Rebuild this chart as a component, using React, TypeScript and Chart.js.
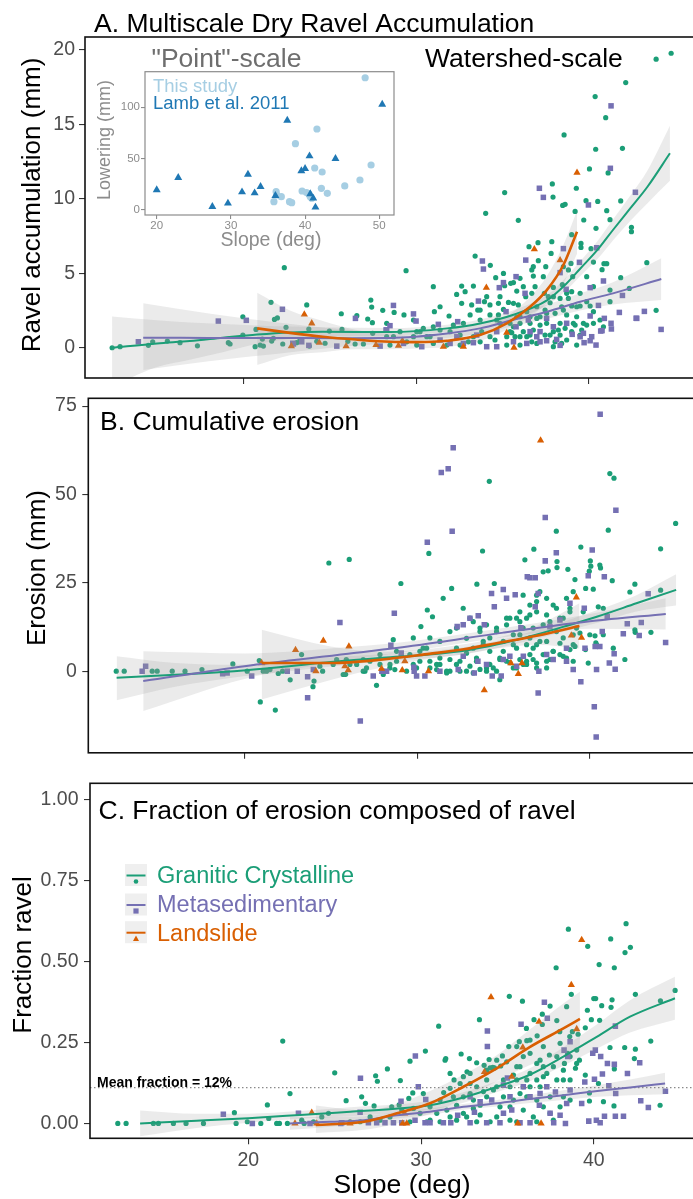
import React, { useEffect, useRef } from 'react';
import { Chart, registerables } from 'chart.js';

Chart.register(...registerables);

const FONT = '"Liberation Sans", Arial, Helvetica, sans-serif';
const GREEN = '#1B9E77';
const PURPLE = '#7570B3';
const ORANGE = '#D95F02';
const LIGHT_BLUE = '#A6CEE3';
const DARK_BLUE = '#1F78B4';
const BAND = 'rgba(153,153,153,0.2)';
const TICK_TEXT = '#4D4D4D';
const TICK_MARK = '#333333';

type Pt = [number, number];

// ---------------- ticks & labels ----------------
const slopeTicks = [20, 30, 40];
const ravelTicks = [0, 5, 10, 15, 20];
const erosionTicks = [0, 25, 50, 75];
const fractionTicks = [0, 0.25, 0.5, 0.75, 1];
const insetSlopeTicks = [20, 30, 40, 50];
const insetLoweringTicks = [0, 50, 100];
const seriesNames = ['Granitic Crystalline', 'Metasedimentary', 'Landslide'];
const insetNames = ['This study', 'Lamb et al. 2011'];
const meanFraction = 0.11;
const meanFractionLabel = 'Mean fraction = 12%';

// ---------------- Panel A: ravel accumulation (mm) ----------------
const ravelGranitic: Pt[] = [
  [12.4,0],[12.86,0.07],[14.5,0.16],[14.75,0.4],[15.6,0.45],[16.33,0.34],[17.34,0.13],[19.13,0.34],[19.23,0.25],[19.97,2.08],
  [19.97,0.85],[20.68,0.07],[20.73,1.23],[20.97,0.18],[21.16,0.11],[21.1,0.58],[21.6,3.05],[21.8,1.9],[21.97,2.0],[21.64,0.45],
  [21.74,0.63],[22.28,0.25],[22.47,1.37],[22.37,5.37],[23.09,0.34],[23.28,0.52],[23.67,2.87],[23.79,1.25],[23.82,0.11],[24.25,0.43],
  [24.73,0.3],[24.98,1.12],[25.67,2.28],[25.71,1.23],[26.05,0.43],[26.57,2.15],[26.47,0.25],[27.2,1.93],[27.38,3.2],[27.43,2.73],
  [27.47,1.68],[28.07,2.51],[28.3,1.64],[26.95,0.25],[27.49,0.97],
  [35.13,10.41],[34.03,9.02],[35.92,8.55],[37.89,10.99],[37.93,10.11],[38.49,9.55],[38.63,9.62],[39.28,10.7],[39.21,9.15],[40.04,12.0],
  [39.84,9.87],[40.52,9.82],[41.04,9.2],[41.12,11.73],[41.85,9.85],[39.71,8.57],[41.23,8.59],[40.42,8.01],[42.47,8.08],[42.47,7.79],
  [39.01,7.59],[39.55,7.0],[39.55,6.73],[40.13,6.65],[40.27,5.75],[40.77,5.24],[40.88,5.64],[41.04,5.64],[41.85,4.7],[43.36,5.71],
  [41.23,3.87],[38.97,5.66],[38.82,5.22],[38.53,5.44],[37.86,7.12],[37.82,6.33],[37.06,7.05],[36.54,6.78],[37.08,5.84],[37.51,5.44],
  [33.42,6.15],[34.3,5.53],[35.06,4.99],[34.61,4.7],[36.7,5.22],[36.79,4.81],[36.02,4.66],[35.64,4.37],[35.48,4.32],[35.13,4.16],
  [35.83,3.8],[36.21,4.1],[36.7,3.65],[36.89,4.1],[37.43,3.65],[37.95,4.05],[38.47,4.23],[39.07,4.77],[39.01,3.76],[29.42,5.17],
  [31.0,4.1],[32.64,4.14],[32.84,3.76],[33.32,4.14],[32.35,3.58],[34.09,3.43],[32.64,2.98],[33.22,2.87],[33.96,3.09],[34.28,2.87],
  [34.77,2.98],[35.06,2.57],[35.35,3.04],[35.92,2.87],[36.35,3.43],[31.39,2.75],[31.06,2.42],[29.3,2.2],[28.73,2.37],[31.91,2.13],
  [33.57,2.53],[34.28,2.2],[34.77,2.2],[37.76,3.02],[38.43,2.75],[39.01,2.8],[39.5,2.8],[40.08,2.8],[41.23,3.09],[42.35,3.98],
  [43.9,2.51],[40.27,2.42],[39.3,2.08],[39.59,1.19],[38.34,1.64],[38.24,1.19],[37.56,1.64],[37.47,0.85],[36.6,0.85],[36.21,1.08],
  [36.02,0.74],[35.25,0.74],[34.57,0.52],[33.8,1.08],[33.32,0.74],[33.03,0.4],[32.55,0.85],[31.97,1.08],[31.39,1.19],[30.81,0.74],
  [30.23,1.08],[29.85,0.74],[29.46,0.4],[28.69,0.74],[28.49,0.18],[31.78,0.18],[35.25,0.18],[36.02,0.18],[36.99,0.29],[37.95,0.07],
  [38.72,0.52],[38.34,0.85],[36.79,1.19],[35.64,1.41],[34.86,1.64],[33.71,1.86],[33.13,2.2],[30.42,1.3],[29.85,1.86],
  [34.67,1.86],[35.44,1.64],[36.02,1.64],[36.99,1.97],[37.18,1.52],[37.95,1.08],[38.63,1.3],[39.01,1.08],[39.88,1.52],[39.11,1.64],
  [36.6,1.64],[33.71,0.4],[32.55,0.18],[31.0,0.29],[30.04,0.18],[34.28,0.74],[35.44,1.08],[35.83,2.08],[36.41,2.42],[36.99,2.75],
  [37.47,2.53],[38.05,2.31],[38.72,2.2],[37.66,3.43],[38.34,3.31],[38.82,3.31],
  [35.54,1.01],[35.73,0.74],[36.41,0.74],[36.7,0.4],[37.76,0.85],[38.05,0.4],[38.43,0.29],[39.3,0.18],[39.5,0.85],[39.21,1.52],
  [39.69,1.64],[40.27,1.64],[40.65,1.86],[40.85,1.41],[36.02,2.08],[36.6,2.08],[37.18,2.08],[37.56,2.31],[38.53,2.53],[39.3,2.75],
  [39.88,3.09],[37.95,3.43],[38.72,3.65],[39.5,3.65],[40.27,4.1],[39.88,4.77],[37.37,4.77],[36.79,5.44],[35.64,2.98],[34.86,3.43],
  [33.71,2.53],[32.74,1.64],[32.16,1.52],[31.0,1.41],[30.62,0.74],[30.04,1.08],[29.07,1.08],[28.3,0.74],
  [44.77,19.76],[43.9,19.36],[42.14,17.79],[40.37,16.85],[40.98,15.44],[38.57,14.28],[40.4,13.32],[41.95,13.38],
];
const ravelMeta: Pt[] = [
  [18.55,1.79],[20.17,1.84],[22.26,2.58],[26.49,1.97],[22.9,0.25],[23.79,0.16],[25.41,0.11],[27.92,0.11],[13.92,0.4],[23.38,0.4],
  [28.26,1.19],[22.86,0.3],
  [41.25,12.04],[41.29,16.23],[42.7,10.43],[37.14,10.7],[37.37,10.09],[39.98,9.58],[38.53,6.65],[39.46,5.73],[40.46,6.71],[36.35,5.88],
  [33.84,5.82],[33.9,5.28],[35.79,4.77],[34.82,4.03],[35.06,4.37],[36.31,3.65],[38.34,5.04],[38.69,3.92],[40.08,4.03],[40.85,4.48],
  [41.95,3.51],[40.56,2.84],[33.61,3.13],[28.69,2.84],[29.85,2.27],[30.0,1.79],[31.29,1.57],[32.41,1.75],[35.21,2.42],[36.5,1.86],
  [37.56,1.97],[40.08,2.13],[40.9,1.97],[41.77,2.37],[41.29,1.64],[41.31,1.26],[40.69,1.12],[39.69,0.97],[39.04,0.9],[40.17,0.74],
  [39.73,0.34],[40.08,0.47],[40.42,0.18],[42.78,1.97],[43.22,2.44],[44.19,1.23],[35.79,1.41],[36.99,0.74],[37.18,0.4],[37.56,0.47],
  [38.14,0.56],[38.34,0.16],[36.41,0.29],[34.67,0.07],[34.09,0.07],[33.32,0.34],[32.74,0.29],[31.97,0.29],[31.39,0.52],[30.33,0.07],
  [29.27,0.29],[28.3,1.19],[28.49,1.48],[40.77,1.15],[42.74,1.98],
  [36.6,1.08],[37.95,1.41],[38.72,1.64],[37.18,1.08],[39.5,0.74],[34.67,1.08],[33.51,0.85],[32.36,0.74],[35.64,0.4],
];
const ravelLandslide: Pt[] = [
  [23.53,2.24],[23.96,1.64],[22.78,0.11],[24.4,0.34],[25.95,0.11],[39.32,11.75],[36.85,6.62],[34.07,4.03],[38.34,5.88],[35.25,1.01],
  [35.67,0.0],[28.98,0.14],[32.74,0.07],[31.58,0.07],[27.68,0.19],[29.21,0.48],
];
// smooth fits: x, fit, lower, upper
const ravelFitGraniticX = [12.4,15,16.9,18.8,20.8,22.7,24.6,28.5,31.8,33.7,35.6,37.6,38.7,39.5,40.5,41.4,42.4,43.4,44.7];
const ravelFitGraniticY = [0,0.29,0.45,0.67,0.89,1.03,1.07,1.05,1.3,1.63,2.2,3.2,4.3,5.3,6.56,7.9,9.35,10.8,13.05];
const ravelFitGraniticHi = [2.1,1.85,1.7,1.6,1.5,1.42,1.38,1.32,1.55,1.9,2.5,3.55,4.75,5.8,7.15,8.6,10.2,11.9,14.9];
const ravelFitGraniticLo = [-2.6,-1.3,-0.8,-0.3,0.25,0.6,0.75,0.8,1.05,1.36,1.9,2.85,3.85,4.8,5.95,7.2,8.5,9.7,11.2];
const ravelFitMetaX = [14.2,18,22,26,28.5,31.8,33.7,35.6,37.6,39.5,41.4,44.2];
const ravelFitMetaY = [0.67,0.66,0.65,0.64,0.65,0.95,1.3,1.86,2.42,3.09,3.65,4.61];
const ravelFitMetaHi = [2.98,2.3,1.7,1.2,1.0,1.25,1.65,2.25,2.9,3.65,4.4,6.0];
const ravelFitMetaLo = [-1.5,-0.9,-0.4,0.1,0.3,0.65,0.95,1.45,1.95,2.5,2.9,3.2];
const ravelFitSlideX = [20.8,22.7,24.6,26.5,28.5,30,31.8,33.7,35.25,36.6,37.57,38.53,39.32];
const ravelFitSlideY = [1.3,1.0,0.74,0.55,0.4,0.38,0.47,0.85,1.64,2.75,3.87,5.55,7.79];
const ravelFitSlideHi = [3.69,2.5,1.8,1.2,0.9,0.8,0.9,1.25,2.1,3.4,4.8,6.9,9.2];
const ravelFitSlideLo = [-1.16,-0.5,-0.3,-0.1,-0.1,-0.05,0.05,0.45,1.2,2.1,3.0,4.3,6.3];

// ---------------- Inset: point-scale lowering (mm) ----------------
const insetThisStudy: Pt[] = [
  [35.8,8.1],[36.1,17.8],[36.2,14.6],[36.8,13],[37.9,8.1],[38.2,7.1],[38.7,64.6],[39.6,18.5],[40.2,16.9],[40.5,15.6],
  [40.7,13],[40.9,11.4],[41.3,40.9],[41.6,78.9],[42.2,21.1],[42.3,37],[43.0,16.2],[45.35,23.4],[47.4,29.2],[48.9,43.8],[48.1,128.8],
];
const insetLamb: Pt[] = [
  [20.0,19.5],[22.9,31.5],[27.5,3.2],[29.6,6.5],[31.5,17.5],[32.3,34.7],[33.2,16.5],[34.0,22.7],[36.0,13.9],[37.6,87.3],
  [39.5,38],[40.0,40.2],[40.6,52.6],[40.7,15.6],[41.1,11.4],[41.4,2.6],[44.1,50],[50.4,102.9],
];

// ---------------- Panel B: cumulative erosion (mm) ----------------
const erosionGranitic: Pt[] = [
  [12.58,0],[13.04,0],[14.66,0],[14.95,0],[15.82,0],[16.56,0],[17.54,0.45],[19.33,2.05],[20.16,0],[20.86,3.0],
  [20.92,-8.7],[21.09,0],[21.28,0],[21.79,-11.0],[21.96,-0.66],[22.21,0],[22.65,-2.45],[23.31,4.7],[23.97,-4.4],[24.03,-2.8],
  [24.89,30.6],[24.53,0],[25.34,3.3],[25.86,-0.9],[26.07,31.6],[21.48,0.45],[24.37,1.4],[25.14,1.9],[25.9,3.3],
  [29.06,24.8],[30.68,33.3],[30.59,17.3],[30.89,15.4],[30.22,12.6],[32.0,23.4],[31.51,20.6],[34.18,53.7],[33.79,34.0],[33.46,24.6],
  [34.47,24.8],[36.24,31.5],[36.76,34.5],[38.06,39.6],[38.1,31.0],[38.1,29.3],[37.3,28.1],[37.59,28.4],[38.73,28.8],[39.48,35.1],
  [40.03,31.2],[40.06,29.7],[40.58,30.0],[40.62,29.2],[39.97,28.3],[41.16,55.9],[41.4,54.6],[41.07,39.9],[41.3,25.6],[42.61,24.6],
  [42.32,22.4],[44.1,34.6],[44.1,22.9],[44.97,41.8],[43.54,11.0],[42.61,11.7],[42.63,11.0],[42.03,3.3],[39.14,25.9],[39.76,23.4],
  [40.2,23.2],[40.49,18.2],[40.78,17.8],[40.3,10.0],[40.35,8.0],[39.75,6.1],[39.91,2.3],[39.43,10.8],[39.14,7.0],[27.65,-4.0],
  [26.98,0],[28.43,1.9],[28.71,0.45],[29.78,9.4],[30.16,5.6],[30.55,6.5],[31.9,11.2],[32.48,2.8],[31.9,0],[31.13,1.9],
  [32.86,5.1],[33.44,3.7],[33.64,11.2],[34.02,0],[34.79,-2.4],[35.18,2.8],[35.57,7.5],[35.95,14.0],[36.34,15.0],[36.92,16.8],
  [37.11,22.5],[37.5,20.6],[37.88,18.7],[38.27,15.0],[38.85,16.8],[39.04,22.5],[37.11,8.4],[37.88,5.6],[38.65,3.7],[37.5,0.9],
  [36.34,2.8],[36.72,6.5],[38.27,7.9],[39.04,10.3],[35.57,0.9],[34.79,3.7],[34.21,5.6],[33.83,8.4],[32.86,9.3],[33.25,14.0],
  [35.18,15.0],[35.18,13.1],[35.95,10.3],[36.72,12.2],[34.6,11.2],[32.28,6.5],[31.32,3.7],[30.74,2.8],[29.97,0.9],[29.39,0],
  [28.04,-0.95],[27.07,0.9],[26.5,1.9],[31.71,0],[33.25,-0.5],[34.41,0.9],[36.15,1.9],[36.92,2.3],
  [26.88,0],[28.42,0.9],[29.78,1.9],[31.13,0.45],[31.71,-0.5],[32.28,1.9],[32.86,0],[33.44,2.8],[34.02,0.9],[34.6,0],
  [35.76,0.9],[36.34,1.9],[36.72,3.3],[37.3,4.7],[37.69,3.3],[38.27,4.7],[38.85,6.1],[33.25,6.5],[33.83,7.5],[34.99,8.4],
  [35.57,10.3],[36.14,12.2],[36.53,9.4],[36.92,7.5],[37.5,8.4],[38.07,11.2],[38.46,9.4],[39.04,7.5],[39.23,12.2],[35.95,16.8],
  [35.37,15.0],[36.53,18.7],[36.92,21.5],[37.5,15.9],[38.07,17.8],[38.65,20.6],[32.67,17.8],[33.06,15.0],[34.02,13.1],[31.32,8.4],
  [30.35,6.5],[29.58,4.7],[28.81,2.8],[27.85,1.9],[27.27,2.8],[26.11,1.9],[25.72,-0.95],[28.62,8.9],[39.62,16.8],[40.0,10.3],
  [40.39,7.5],[40.78,10.3],[41.36,6.5],
  [30.16,2.8],[30.74,0.9],[31.32,1.9],[31.9,3.3],[32.48,0],[33.06,1.4],[33.64,0.5],[34.21,1.9],[34.79,3.3],[35.37,2.4],
  [35.95,3.3],[36.53,4.7],[36.92,0.9],[37.5,2.8],[37.88,5.6],[38.46,4.2],[39.04,2.8],[36.34,7.5],[35.76,6.5],[34.99,5.6],
  [34.21,9.4],[34.6,12.2],[37.3,13.1],[37.69,14.0],[38.46,15.0],[38.85,17.8],[36.53,15.9],[35.76,15.0],[36.92,19.7],[36.14,21.5],
  [33.64,12.2],[32.28,12.2],[30.74,9.4],[28.81,5.6],[27.85,4.7],[26.88,3.3],
];
const erosionMeta: Pt[] = [
  [14.08,0],[14.28,1.4],[18.74,-0.75],[19.0,-0.5],[20.42,-1.4],[22.48,0],[23.06,0],[23.66,-1.6],[23.66,-7.5],[25.53,13.75],
  [23.99,0.45],[40.6,72.7],[32.09,63.2],[31.8,57.3],[31.4,56.2],[32.03,39.6],[30.59,36.5],[37.42,43.5],[41.51,45.5],[38.06,33.5],
  [37.42,31.2],[40.14,34.3],[39.91,27.0],[40.84,26.7],[36.38,26.7],[36.84,26.4],[36.53,26.4],[37.01,22.0],[34.31,22.0],[34.99,23.1],
  [35.68,21.6],[35.18,20.6],[34.47,18.2],[28.68,16.4],[32.32,12.6],[32.67,13.1],[33.06,15.0],[33.54,15.7],[33.89,13.1],[36.01,12.3],
  [36.84,18.2],[37.69,12.6],[38.27,14.5],[38.85,19.2],[39.68,17.8],[41.01,15.4],[42.17,13.4],[42.98,13.75],[43.38,21.9],[41.94,10.6],
  [42.86,10.1],[44.39,8.1],[40.72,11.2],[41.13,2.3],[41.41,4.9],[41.47,0.55],[40.39,0.45],[39.04,0.45],[39.48,-3.0],[40.26,-10.1],
  [40.37,-18.6],[37.01,-6.2],[26.71,-14.1],[28.48,7.3],[29.08,5.1],[29.81,1.1],[30.45,-1.4],[31.32,0],[32.38,0.45],[33.31,-0.5],
  [34.35,-1.4],[34.87,-1.4],[35.76,1.4],[37.05,0],[37.88,3.3],[38.65,6.5],[38.65,2.8],[39.72,6.5],[40.31,7.0],[40.58,7.0],
  [27.96,0],[28.23,0],[27.46,-1.4],[29.83,0],[29.97,-1.4],[32.67,4.2],[33.52,2.8],[34.02,1.9],[34.99,3.3],[35.37,4.2],
  [36.15,4.2],[37.5,4.7],
];
const erosionLandslide: Pt[] = [
  [21.0,2.3],[22.96,6.0],[24.14,0],[24.57,8.6],[26.05,7.0],[25.82,1.4],[37.15,65.3],[26.01,0.3],[27.94,0.7],[29.29,2.8],
  [29.14,0.3],[30.66,0],[33.89,-5.4],[35.43,2.3],[35.86,-0.8],[36.07,2.3],[38.93,10.1],[39.52,9.5],[39.22,20.9],
];
const erosionFitGraniticX = [12.6,16,19.4,22,25,28,30.7,33,34.6,36.5,38.5,40.4,42.7,45.0];
const erosionFitGraniticY = [-1.9,-1.0,0.0,1.1,2.6,3.8,4.7,6.0,7.5,9.8,12.6,15.4,19.2,23.0];
const erosionFitGraniticHi = [4.2,2.3,1.8,2.6,3.9,4.8,5.7,7.0,8.5,11.0,14.0,17.2,21.5,27.4];
const erosionFitGraniticLo = [-8.2,-4.4,-1.8,-0.4,1.3,2.8,3.7,5.0,6.5,8.6,11.2,13.6,16.9,18.6];
const erosionFitMetaX = [14.14,20,26,30,35,40,44.4];
const erosionFitMetaY = [-2.8,1.4,4.9,7.3,10.9,14.1,16.2];
const erosionFitMetaHi = [5.6,5.0,6.8,8.7,12.2,16.2,20.6];
const erosionFitMetaLo = [-11.3,-2.2,3.0,5.9,9.6,12.0,11.8];
const erosionFitSlideX = [21,25,28,30.7,32.7,34.6,37,39.4];
const erosionFitSlideY = [2.3,2.3,3.3,4.9,6.2,7.9,10.1,12.8];
const erosionFitSlideHi = [11.7,7.0,5.5,6.3,7.6,9.4,13.0,19.2];
const erosionFitSlideLo = [-8.0,-2.5,1.1,3.5,4.8,6.4,7.5,6.4];

// ---------------- Panel C: fraction ravel ----------------
const fractionGranitic: Pt[] = [
  [12.44,0],[12.92,0],[14.5,0],[14.79,0],[15.66,0],[16.39,0],[17.4,0],[19.19,0.033],[19.29,0],[19.94,0.005],
  [20.72,0],[21.1,0.057],[21.18,0.015],[21.64,0],[21.8,0],[21.99,0.254],[22.41,0.092],[22.26,0],[23.09,0.01],[23.23,0],
  [23.77,0.005],[24.25,0.02],[25.0,0.156],[25.66,0.07],[24.64,0.031],
  [26.56,0.082],[26.78,0.062],[27.28,0.054],[27.37,0.147],[27.47,0.13],[28.05,0.168],[28.3,0.051],[28.8,0.132],[28.73,0.057],[29.36,0.192],
  [29.29,0.077],[29.52,0.094],[30.25,0.223],[30.13,0.092],[31.02,0.3],[31.39,0.195],[31.43,0.2],[31.31,0.095],[31.68,0.108],[31.91,0.134],
  [32.32,0.214],[32.66,0.159],[32.8,0.2],[33.22,0.187],[33.38,0.32],[33.65,0.179],[33.94,0.197],[34.0,0.171],[34.15,0.173],[34.25,0.171],
  [34.61,0.177],[34.71,0.208],[35.08,0.237],[35.11,0.392],[35.69,0.252],[35.87,0.377],[36.12,0.255],[36.1,0.293],[36.54,0.32],[36.72,0.27],
  [37.02,0.337],[37.02,0.305],[37.47,0.362],[37.86,0.317],[37.82,0.48],[38.03,0.283],[38.43,0.36],[38.61,0.268],[38.7,0.398],[38.76,0.283],
  [39.09,0.275],[39.51,0.295],[39.65,0.546],[39.63,0.349],[39.86,0.32],[40.0,0.385],[40.11,0.385],[40.34,0.318],[40.31,0.49],[40.46,0.363],
  [41.06,0.381],[41.0,0.358],[41.19,0.48],[40.94,0.234],[41.19,0.168],[41.81,0.527],[42.12,0.543],[41.79,0.234],[42.41,0.398],[42.41,0.229],
  [42.35,0.2],[43.3,0.254],[43.86,0.378],[44.71,0.41],[43.84,0.056],[41.17,0.054],[40.56,0.067],[40.27,0.123],[39.75,0.069],[39.51,0.149],
  [39.75,0.094],[39.01,0.185],[39.17,0.195],[38.94,0.17],[38.49,0.216],[38.3,0.185],[37.86,0.206],[37.43,0.211],[37.08,0.175],[36.7,0.185],
  [36.31,0.154],[36.12,0.134],[35.73,0.175],[35.54,0.134],[35.15,0.113],[34.77,0.134],[34.38,0.113],[33.8,0.082],[33.22,0.113],[32.84,0.092],
  [32.45,0.082],[32.06,0.056],[31.49,0.041],[30.91,0.031],[30.52,0.01],[31.1,0.005],[31.68,0.02],[32.45,0.031],[33.42,0.026],[34.0,0.005],
  [34.38,0.02],[35.15,0.01],[35.92,0.041],[36.5,0.02],[37.08,0.051],[37.47,0.031],[38.05,0.051],[38.24,0.082],[38.63,0.072],[37.47,0.082],
  [36.7,0.072],[36.12,0.082],[35.35,0.072],[34.77,0.082],[33.42,0.056],[33.03,0.046],[32.64,0.02],[32.06,0.01],[29.94,0.031],[29.56,0.046],
  [28.88,0.041],[28.2,0.02],[27.63,0.01],[27.05,0.02],[26.47,0.005],[25.89,0.005],[29.36,0.005],[30.33,0.005],[33.22,0.005],[35.54,0.005],
  [36.7,0.005],[37.66,0.01],[35.92,0.113],[36.89,0.113],[38.24,0.134],[37.08,0.144],[35.35,0.149],[36.31,0.216],[35.54,0.237],[34.96,0.19],
  [33.8,0.134],[32.84,0.123],[31.68,0.154],[32.45,0.144],[38.53,0.599],[41.87,0.616],[40.98,0.569],
  [30.52,0.051],[31.1,0.072],[31.87,0.082],[33.03,0.072],[33.61,0.098],[34.19,0.103],[34.57,0.051],[35.15,0.051],[35.73,0.092],[36.31,0.113],
  [36.7,0.134],[37.28,0.154],[37.86,0.134],[38.24,0.164],[38.63,0.134],[37.66,0.175],[36.89,0.195],[35.92,0.206],[35.54,0.175],[34.38,0.195],
  [33.8,0.164],[32.84,0.154],[32.26,0.123],[36.31,0.257],[37.08,0.237],[38.05,0.247],[38.63,0.206],[39.01,0.226],
];
const fractionMeta: Pt[] = [
  [18.55,0.028],[20.23,0],[22.9,0.031],[23.57,0],[25.35,0],
  [37.14,0.374],[37.31,0.324],[35.79,0.306],[33.84,0.285],[33.84,0.237],[35.0,0.14],[29.84,0.113],[29.67,0.208],[28.84,0.068],[26.49,0.139],
  [30.27,0.074],[38.28,0.226],[38.63,0.252],[38.49,0.206],[39.94,0.216],[40.09,0.226],[40.4,0.206],[41.25,0.3],[40.79,0.185],[41.19,0.182],
  [40.5,0.152],[41.27,0.092],[40.87,0.116],[41.95,0.154],[42.66,0.187],[40.04,0.136],[39.48,0.128],[42.72,0.07],[43.16,0.049],[44.15,0.099],
  [41.72,0.022],[41.25,0.022],[40.62,0.022],[40.15,0.01],[40.37,0.002],[39.71,0.007],[39.3,0.061],[38.43,0.061],[38.36,0],[37.68,0.002],
  [38.05,0.025],[37.47,0.031],[36.89,0.092],[36.85,0.056],[36.31,0.002],[35.73,0.002],[35.25,0.041],[34.77,0.031],[34.57,0.002],[33.8,0.002],
  [33.09,0.034],[32.84,0.002],[32.12,0.025],[31.72,0.002],[31.29,0.002],[30.52,0.002],[30.23,0.002],[29.65,0.01],[28.88,0.002],[28.4,0.002],
  [27.91,0.002],[27.43,0.002],[26.95,0.002],[26.47,0.034],[25.41,0.002],[32.84,0.082],[33.42,0.067],[34.09,0.072],[34.77,0.118],[35.92,0.113],
  [36.31,0.082],[35.15,0.082],[38.63,0.103],[37.28,0.113],[37.78,0.097],
];
const fractionLandslide: Pt[] = [
  [39.3,0.566],[38.7,0.427],[34.05,0.389],[36.83,0.314],[35.89,0.234],[39.01,0.291],[33.67,0.159],[35.25,0.144],[29.05,0.031],[28.94,0],
  [29.17,0],[35.6,0],[36.95,0],[25.89,0],[23.67,0.033],[22.7,0],[23.96,0],
];
const fractionFitGraniticX = [13.73,17,20,23,25.9,28.5,30.5,32.45,34.4,36.3,38.24,40.17,42.1,44.7];
const fractionFitGraniticY = [0,0.008,0.016,0.026,0.036,0.045,0.056,0.08,0.113,0.15,0.206,0.267,0.329,0.386];
const fractionFitGraniticHi = [0.04,0.03,0.03,0.038,0.05,0.058,0.07,0.096,0.13,0.17,0.235,0.305,0.38,0.452];
const fractionFitGraniticLo = [-0.04,-0.014,0.002,0.014,0.022,0.032,0.042,0.064,0.097,0.13,0.178,0.23,0.28,0.32];
const fractionFitMetaX = [22.4,24.73,26.7,28.6,30.5,32.45,34.4,36.3,38.24,40.2,42.1,44.13];
const fractionFitMetaY = [0.0,0.005,0.01,0.025,0.036,0.051,0.062,0.075,0.087,0.1,0.111,0.123];
const fractionFitMetaHi = [0.02,0.02,0.022,0.035,0.046,0.06,0.072,0.087,0.102,0.118,0.135,0.156];
const fractionFitMetaLo = [-0.02,-0.01,0.0,0.015,0.026,0.042,0.052,0.063,0.072,0.082,0.087,0.09];
const fractionFitSlideX = [23.9,26.7,28.6,30.52,32.45,34.38,36.31,38.24,39.2];
const fractionFitSlideY = [-0.005,0.005,0.031,0.062,0.113,0.17,0.236,0.293,0.322];
const fractionFitSlideHi = [0.055,0.04,0.06,0.1,0.15,0.21,0.29,0.37,0.406];
const fractionFitSlideLo = [-0.03,-0.02,0.0,0.03,0.075,0.13,0.18,0.215,0.226];

// ---------------- helpers ----------------
const xy = (pts: Pt[]) => pts.map(([x, y]) => ({ x, y }));
const zip = (xs: number[], ys: number[]) => xs.map((x, i) => ({ x, y: ys[i] }));

function pointSet(pts: Pt[], color: string, style: string, r: number, order: number) {
  return {
    data: xy(pts), showLine: false, pointStyle: style, pointRadius: r,
    pointBackgroundColor: color, pointBorderColor: color, pointBorderWidth: 0,
    borderColor: color, backgroundColor: color, order,
  };
}
function bandSets(xs: number[], lo: number[], hi: number[]) {
  const common = { pointRadius: 0, borderWidth: 0, borderColor: 'rgba(0,0,0,0)', cubicInterpolationMode: 'monotone', order: 3 };
  return [
    { ...common, data: zip(xs, lo), fill: false },
    { ...common, data: zip(xs, hi), fill: '-1', backgroundColor: BAND },
  ];
}
function curveSet(xs: number[], ys: number[], color: string, w: number, order: number) {
  return { data: zip(xs, ys), borderColor: color, borderWidth: w, pointRadius: 0, fill: false, cubicInterpolationMode: 'monotone', order };
}

type AxisOpts = { size: number; show: boolean; font?: number; color?: string; tickLen?: number; tickColor?: string; pad?: number; fmt?: (v: number) => string };
function scaleX(min: number, max: number, vals: number[], o: AxisOpts) {
  return {
    type: 'linear', position: 'bottom', min, max,
    afterBuildTicks: (s: any) => { s.ticks = vals.map((v) => ({ value: v })); },
    afterFit: (s: any) => { s.height = o.size; },
    grid: { display: true, drawOnChartArea: false, drawTicks: true, tickLength: o.tickLen ?? 6, color: o.tickColor ?? TICK_MARK, lineWidth: 1.1 },
    border: { display: false },
    ticks: { display: o.show, color: o.color ?? TICK_TEXT, font: { family: FONT, size: o.font ?? 19.5 }, padding: o.pad ?? 5, maxRotation: 0, autoSkip: false,
      callback: (v: any) => (o.fmt ? o.fmt(Number(v)) : String(v)) },
  };
}
function scaleY(min: number, max: number, vals: number[], o: AxisOpts) {
  return {
    type: 'linear', position: 'left', min, max,
    afterBuildTicks: (s: any) => { s.ticks = vals.map((v) => ({ value: v })); },
    afterFit: (s: any) => { s.width = o.size; },
    grid: { display: true, drawOnChartArea: false, drawTicks: true, tickLength: o.tickLen ?? 6, color: o.tickColor ?? TICK_MARK, lineWidth: 1.1 },
    border: { display: false },
    ticks: { display: o.show, color: o.color ?? TICK_TEXT, font: { family: FONT, size: o.font ?? 19.5 }, padding: o.pad ?? 5, autoSkip: false,
      callback: (v: any) => (o.fmt ? o.fmt(Number(v)) : String(v)) },
  };
}

type TextItem = { t: string; x: number; y: number; size: number; color?: string; bold?: boolean; align?: CanvasTextAlign; rot?: boolean };
function drawTexts(ctx: CanvasRenderingContext2D, items: TextItem[]) {
  for (const it of items) {
    ctx.save();
    ctx.font = `${it.bold ? 'bold ' : ''}${it.size}px ${FONT}`;
    ctx.fillStyle = it.color || '#000';
    ctx.textAlign = it.align || 'left';
    ctx.textBaseline = 'alphabetic';
    ctx.translate(it.x, it.y);
    if (it.rot) ctx.rotate(-Math.PI / 2);
    ctx.fillText(it.t, 0, 0);
    ctx.restore();
  }
}
function deco(texts: TextItem[], frameColor: string, frameWidth: number, extra?: (c: any) => void, bg?: string) {
  return {
    id: 'deco',
    beforeDraw(chart: any) {
      if (!bg) return;
      const { ctx, chartArea: a } = chart;
      ctx.save(); ctx.fillStyle = bg; ctx.fillRect(a.left, a.top, a.right - a.left, a.bottom - a.top); ctx.restore();
    },
    afterDraw(chart: any) {
      const { ctx, chartArea: a } = chart;
      ctx.save(); ctx.strokeStyle = frameColor; ctx.lineWidth = frameWidth;
      ctx.strokeRect(a.left, a.top, a.right - a.left, a.bottom - a.top); ctx.restore();
      if (extra) extra(chart);
      drawTexts(ctx, texts);
    },
  };
}
function baseOptions(padding: any, scales: any) {
  return {
    animation: false, responsive: false, maintainAspectRatio: false, devicePixelRatio: 1, events: [],
    layout: { padding },
    plugins: { legend: { display: false }, tooltip: { enabled: false } },
    scales,
  };
}

// ---------------- chart configs ----------------
function configA() {
  return {
    type: 'line',
    data: { datasets: [
      pointSet(ravelGranitic, GREEN, 'circle', 2.6, 6),
      pointSet(ravelMeta, PURPLE, 'rect', 3.9, 5),
      pointSet(ravelLandslide, ORANGE, 'triangle', 4.2, 4),
      ...bandSets(ravelFitGraniticX, ravelFitGraniticLo, ravelFitGraniticHi),
      ...bandSets(ravelFitMetaX, ravelFitMetaLo, ravelFitMetaHi),
      ...bandSets(ravelFitSlideX, ravelFitSlideLo, ravelFitSlideHi),
      curveSet(ravelFitGraniticX, ravelFitGraniticY, GREEN, 2, 2),
      curveSet(ravelFitMetaX, ravelFitMetaY, PURPLE, 2, 1),
      curveSet(ravelFitSlideX, ravelFitSlideY, ORANGE, 2.6, 0),
    ] },
    options: baseOptions({ left: 0, top: 37, right: 10, bottom: 0 }, {
      x: scaleX(10.83, 47.02, slopeTicks, { size: 22, show: false }),
      y: scaleY(-2.03, 20.85, ravelTicks, { size: 85, show: true, pad: 4 }),
    }),
    plugins: [deco([
      { t: 'A. Multiscale Dry Ravel Accumulation', x: 94, y: 31.5, size: 26.5 },
      { t: 'Watershed-scale', x: 425, y: 66.5, size: 26.5 },
      { t: 'Ravel accumulation (mm)', x: 40, y: 205, size: 26, rot: true, align: 'center' },
    ], '#111', 1.6)],
  };
}

function configInset() {
  return {
    type: 'line',
    data: { datasets: [
      pointSet(insetThisStudy, LIGHT_BLUE, 'circle', 3.6, 2),
      pointSet(insetLamb, DARK_BLUE, 'triangle', 4.6, 1),
    ] },
    options: baseOptions({ left: 0, top: 31.7, right: 16, bottom: 0 }, {
      x: scaleX(18.42, 51.99, insetSlopeTicks, { size: 40, show: true, font: 11.5, color: '#8C8C8C', tickLen: 4, tickColor: '#8C8C8C', pad: 0 }),
      y: scaleY(-4.9, 134.7, insetLoweringTicks, { size: 55, show: true, font: 11.5, color: '#8C8C8C', tickLen: 4, tickColor: '#8C8C8C', pad: 1 }),
    }),
    plugins: [deco([
      { t: '"Point"-scale', x: 61.5, y: 26.5, size: 26.5, color: '#6E6E6E' },
      { t: insetNames[0], x: 63, y: 51.5, size: 18.5, color: LIGHT_BLUE },
      { t: insetNames[1], x: 63, y: 68.5, size: 18.5, color: DARK_BLUE },
      { t: 'Slope (deg)', x: 181, y: 206, size: 19.5, color: '#8C8C8C', align: 'center' },
      { t: 'Lowering (mm)', x: 19.5, y: 100, size: 18, color: '#8C8C8C', align: 'center', rot: true },
    ], '#8C8C8C', 1.2, undefined, '#FFFFFF')],
  };
}

function configB() {
  return {
    type: 'line',
    data: { datasets: [
      pointSet(erosionGranitic, GREEN, 'circle', 2.6, 6),
      pointSet(erosionMeta, PURPLE, 'rect', 3.9, 5),
      pointSet(erosionLandslide, ORANGE, 'triangle', 4.2, 4),
      ...bandSets(erosionFitGraniticX, erosionFitGraniticLo, erosionFitGraniticHi),
      ...bandSets(erosionFitMetaX, erosionFitMetaLo, erosionFitMetaHi),
      ...bandSets(erosionFitSlideX, erosionFitSlideLo, erosionFitSlideHi),
      curveSet(erosionFitGraniticX, erosionFitGraniticY, GREEN, 2, 2),
      curveSet(erosionFitMetaX, erosionFitMetaY, PURPLE, 2, 1),
      curveSet(erosionFitSlideX, erosionFitSlideY, ORANGE, 2.6, 0),
    ] },
    options: baseOptions({ left: 0, top: 38.3, right: 10, bottom: 0 }, {
      x: scaleX(10.96, 46.96, slopeTicks, { size: 14.3, show: false }),
      y: scaleY(-23.1, 77.2, erosionTicks, { size: 88.3, show: true, pad: 5.5 }),
    }),
    plugins: [deco([
      { t: 'B. Cumulative erosion', x: 100, y: 70, size: 26.5 },
      { t: 'Erosion (mm)', x: 44.5, y: 208, size: 26, rot: true, align: 'center' },
    ], '#111', 1.6)],
  };
}

function drawLegendC(chart: any) {
  const ctx: CanvasRenderingContext2D = chart.ctx;
  const rows = [
    { name: seriesNames[0], color: GREEN, shape: 'circle', cy: 115, base: 123.3 },
    { name: seriesNames[1], color: PURPLE, shape: 'rect', cy: 144.5, base: 152.3 },
    { name: seriesNames[2], color: ORANGE, shape: 'triangle', cy: 172.2, base: 180.7 },
  ];
  for (const r of rows) {
    ctx.save();
    ctx.fillStyle = '#EFEFEF';
    ctx.fillRect(125, r.cy - 11, 22, 22);
    ctx.strokeStyle = r.color; ctx.lineWidth = 2;
    ctx.beginPath(); ctx.moveTo(126.5, r.cy + 0.5); ctx.lineTo(145.5, r.cy + 0.5); ctx.stroke();
    ctx.fillStyle = r.color;
    const px = 136, py = r.cy + 6.5;
    ctx.beginPath();
    if (r.shape === 'circle') { ctx.arc(px, py, 2.3, 0, Math.PI * 2); }
    else if (r.shape === 'rect') { ctx.rect(px - 2.6, py - 2.6, 5.2, 5.2); }
    else { ctx.moveTo(px, py - 3.2); ctx.lineTo(px + 3, py + 2.2); ctx.lineTo(px - 3, py + 2.2); ctx.closePath(); }
    ctx.fill();
    ctx.font = `23.5px ${FONT}`;
    ctx.textBaseline = 'alphabetic';
    ctx.fillText(r.name, 157, r.base);
    ctx.restore();
  }
}

function configC() {
  return {
    type: 'line',
    data: { datasets: [
      pointSet(fractionGranitic, GREEN, 'circle', 2.6, 6),
      pointSet(fractionMeta, PURPLE, 'rect', 3.9, 5),
      pointSet(fractionLandslide, ORANGE, 'triangle', 4.2, 4),
      ...bandSets(fractionFitGraniticX, fractionFitGraniticLo, fractionFitGraniticHi),
      ...bandSets(fractionFitMetaX, fractionFitMetaLo, fractionFitMetaHi),
      ...bandSets(fractionFitSlideX, fractionFitSlideLo, fractionFitSlideHi),
      { data: [{ x: 10.83, y: meanFraction }, { x: 46.73, y: meanFraction }], borderColor: '#8A8A8A', borderWidth: 1.2,
        borderDash: [1.5, 2.5], pointRadius: 0, fill: false, order: 2.5 },
      curveSet(fractionFitGraniticX, fractionFitGraniticY, GREEN, 2, 2),
      curveSet(fractionFitMetaX, fractionFitMetaY, PURPLE, 2, 1),
      curveSet(fractionFitSlideX, fractionFitSlideY, ORANGE, 2.6, 0),
    ] },
    options: baseOptions({ left: 0, top: 23.3, right: 10, bottom: 0 }, {
      x: scaleX(10.83, 46.73, slopeTicks, { size: 60.7, show: true, pad: 5 }),
      y: scaleY(-0.046, 1.049, fractionTicks, { size: 90, show: true, pad: 5.5, fmt: (v) => v.toFixed(2) }),
    }),
    plugins: [deco([
      { t: 'C. Fraction of erosion composed of ravel', x: 98.5, y: 59.3, size: 26.5 },
      { t: 'Fraction ravel', x: 31, y: 195, size: 26, rot: true, align: 'center' },
      { t: 'Slope (deg)', x: 402, y: 433, size: 26.5, align: 'center' },
      { t: meanFractionLabel, x: 97, y: 327, size: 14, bold: true },
    ], '#111', 1.6, drawLegendC)],
  };
}

// ---------------- components ----------------
function ChartBox({ make, left, top, width, height }: { make: () => any; left: number; top: number; width: number; height: number }) {
  const ref = useRef<HTMLCanvasElement>(null);
  useEffect(() => {
    const chart = new Chart(ref.current as HTMLCanvasElement, make());
    return () => chart.destroy();
  }, []);
  return <canvas ref={ref} width={width} height={height} style={{ position: 'absolute', left, top, width, height }} />;
}

export default function App() {
  return (
    <div style={{ position: 'fixed', left: 0, top: 0, width: 693, height: 1199, overflow: 'hidden', background: '#fff' }}>
      <ChartBox make={configA} left={0} top={0} width={720} height={400} />
      <ChartBox make={configB} left={0} top={360} width={720} height={410} />
      <ChartBox make={configC} left={0} top={760} width={720} height={439} />
      <ChartBox make={configInset} left={90} top={40} width={320} height={215} />
    </div>
  );
}
